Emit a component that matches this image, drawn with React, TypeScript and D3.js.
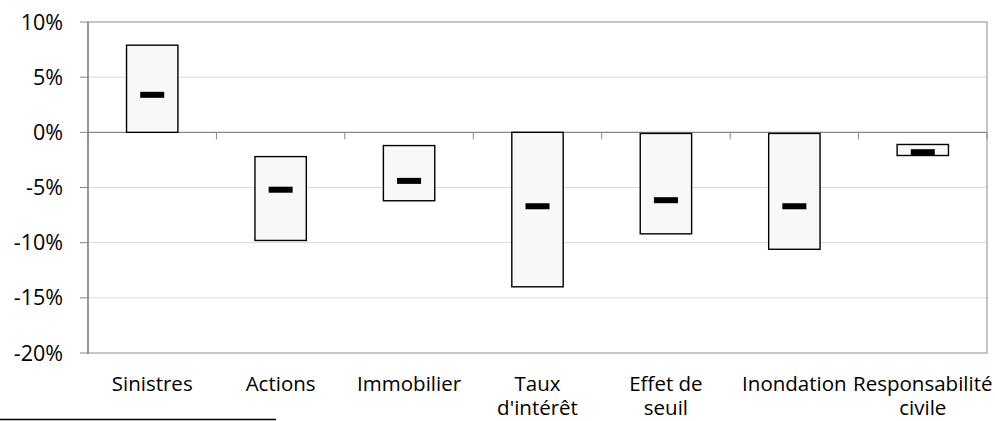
import React, { useEffect, useRef } from 'react';
import * as d3 from 'd3';

const categories = ['Sinistres', 'Actions', 'Immobilier', "Taux d'intérêt", 'Effet de seuil', 'Inondation', 'Responsabilité civile'];
// label lines as shown under the axis
const categoryLines = [['Sinistres'], ['Actions'], ['Immobilier'], ['Taux', "d'intérêt"], ['Effet de', 'seuil'], ['Inondation'], ['Responsabilité', 'civile']];
const highValues = [0.079, -0.022, -0.012, 0.0, -0.001, -0.001, -0.011];
const lowValues = [0.0, -0.098, -0.062, -0.14, -0.092, -0.106, -0.021];
const midValues = [0.034, -0.052, -0.044, -0.067, -0.0615, -0.067, -0.018];
const yTicks = [0.1, 0.05, 0, -0.05, -0.1, -0.15, -0.2];

const W = 995;
const H = 421;
const FONT = '"Open Sans", "Noto Sans", sans-serif';

export default function App() {
  const ref = useRef<SVGSVGElement>(null);

  useEffect(() => {
    const svg = d3.select(ref.current);
    svg.selectAll('*').remove();

    const left = 88, right = 987, top = 22, bottom = 353;
    const x = d3.scaleBand<string>().domain(categories).range([left, right]).paddingInner(0.6).paddingOuter(0.3);
    const y = d3.scaleLinear().domain([-0.2, 0.1]).range([bottom, top]);
    const fmt = (v: number) => `${Math.round(v * 100)}%`;

    // gridlines
    svg.append('g').selectAll('line').data(yTicks.filter(t => t !== 0.1 && t !== -0.2 && t !== 0))
      .enter().append('line')
      .attr('x1', left).attr('x2', right)
      .attr('y1', d => y(d)).attr('y2', d => y(d))
      .attr('stroke', '#d9d9d9').attr('stroke-width', 1);

    // plot frame
    svg.append('rect')
      .attr('x', left).attr('y', y(0.1)).attr('width', right - left).attr('height', y(-0.2) - y(0.1))
      .attr('fill', 'none').attr('stroke', '#8c8c8c').attr('stroke-width', 1);

    // y axis ticks + labels
    const ya = svg.append('g');
    ya.selectAll('line').data(yTicks).enter().append('line')
      .attr('x1', left - 8).attr('x2', left)
      .attr('y1', d => y(d)).attr('y2', d => y(d))
      .attr('stroke', '#868686');
    ya.selectAll('text').data(yTicks).enter().append('text')
      .attr('x', 63).attr('y', d => y(d)).attr('dy', '0.35em')
      .attr('text-anchor', 'end')
      .style('font-family', FONT).style('font-size', '21.5px').attr('fill', '#000')
      .text(d => fmt(d));
    ya.append('line').attr('x1', left).attr('x2', left).attr('y1', top).attr('y2', bottom + 1)
      .attr('stroke', '#868686').attr('stroke-width', 1.5);

    // x axis at 0
    const xa = svg.append('g');
    xa.append('line').attr('x1', left).attr('x2', right).attr('y1', y(0)).attr('y2', y(0))
      .attr('stroke', '#868686').attr('stroke-width', 1.2);
    const bounds = categories.map(c => x(c)! - x.step() * x.paddingInner() / 2).concat([right]);
    bounds[0] = left;
    xa.selectAll('line.tick').data(bounds).enter().append('line')
      .attr('class', 'tick')
      .attr('x1', d => d).attr('x2', d => d).attr('y1', y(0)).attr('y2', y(0) + 7)
      .attr('stroke', '#868686');

    // boxes
    svg.append('g').selectAll('rect').data(categories).enter().append('rect')
      .attr('x', d => x(d)!)
      .attr('width', x.bandwidth())
      .attr('y', (d, i) => y(highValues[i]))
      .attr('height', (d, i) => y(lowValues[i]) - y(highValues[i]))
      .attr('fill', '#f8f8f8').attr('stroke', '#000').attr('stroke-width', 1.4);

    // mid markers
    svg.append('g').selectAll('rect').data(categories).enter().append('rect')
      .attr('x', d => x(d)! + x.bandwidth() / 2 - 12)
      .attr('y', (d, i) => y(midValues[i]) - 3)
      .attr('width', 24).attr('height', 6)
      .attr('fill', '#000');

    // category labels, one text per line
    const lab = svg.append('g');
    categoryLines.forEach((lines, i) => {
      lines.forEach((l, j) => {
        lab.append('text')
          .attr('x', x(categories[i])! + x.bandwidth() / 2)
          .attr('y', 391 + j * 24)
          .attr('text-anchor', 'middle')
          .style('font-family', FONT).style('font-size', '20.5px').attr('fill', '#000')
          .text(l);
      });
    });

    // footnote separator
    svg.append('line').attr('x1', 0).attr('x2', 276).attr('y1', 419.5).attr('y2', 419.5)
      .attr('stroke', '#000').attr('stroke-width', 1.6);
  }, []);

  return (
    <svg ref={ref} width={W} height={H} style={{ position: 'absolute', left: 0, top: 0, background: '#fff' }} />
  );
}
